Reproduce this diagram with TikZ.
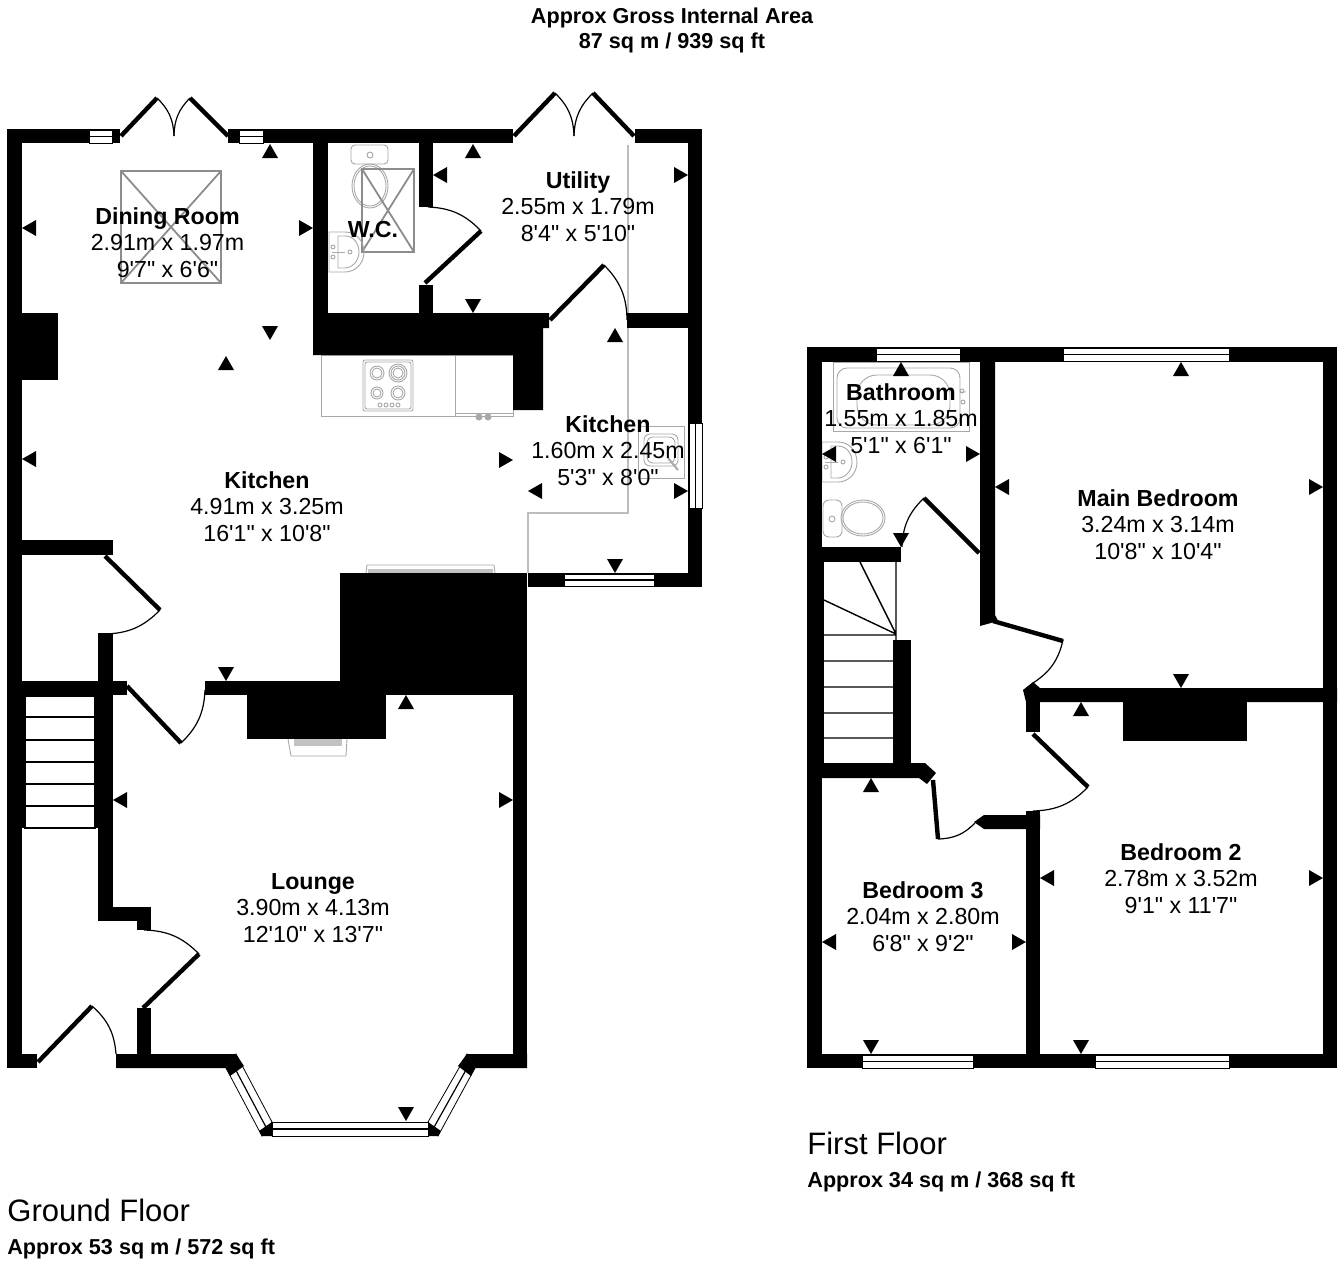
\documentclass[tikz,border=0pt]{standalone}
\usepackage{fontspec}
\setmainfont{Liberation Sans}[Ligatures=TeXOff]
\definecolor{fixgray}{gray}{0.66}
\definecolor{skygray}{gray}{0.55}
\definecolor{linegray}{gray}{0.74}
\tikzset{
  wall/.style={fill=black,draw=none},
  leaf/.style={draw=black,line width=2.2pt,line cap=butt},
  swing/.style={draw=black,line width=0.6pt},
  fix/.style={draw=fixgray,line width=0.45pt},
  sky/.style={draw=skygray,line width=0.9pt},
  winbox/.style={fill=white,draw=black,line width=0.4pt},
  roomtext/.style={anchor=north,inner sep=0pt,align=center,text=black,font=\fontsize{11.6}{13.3}\selectfont},
  headtext/.style={anchor=base,inner sep=0pt,font=\fontsize{10.8}{12.5}\selectfont\bfseries},
  floorname/.style={anchor=base west,inner sep=0pt,font=\fontsize{15.5}{18}\selectfont},
  floorarea/.style={anchor=base west,inner sep=0pt,font=\fontsize{10.8}{12.5}\selectfont\bfseries},
}
\newcommand{\triup}[2]{\fill (#1,#2)--(#1-8,#2+14)--(#1+8,#2+14)--cycle;}
\newcommand{\tridn}[2]{\fill (#1,#2)--(#1-8,#2-14)--(#1+8,#2-14)--cycle;}
\newcommand{\trilf}[2]{\fill (#1,#2)--(#1+14,#2-8)--(#1+14,#2+8)--cycle;}
\newcommand{\trirt}[2]{\fill (#1,#2)--(#1-14,#2-8)--(#1-14,#2+8)--cycle;}
\newcommand{\winh}[4]{\path[winbox] (#1,#3) rectangle (#2,#4); \draw[line width=0.6pt] (#1,{(#3+#4)/2}) -- (#2,{(#3+#4)/2});}
\newcommand{\winv}[4]{\path[winbox] (#1,#3) rectangle (#2,#4); \draw[line width=0.6pt] ({(#1+#2)/2},#3) -- ({(#1+#2)/2},#4);}
\newcommand{\basin}[2]{\begin{scope}[shift={(#1,#2)}]
  \path[fix] (0,0) -- (16,0) .. controls (28,0) and (35,10) .. (35,20) .. controls (35,32) and (26,40) .. (16,40) -- (0,40) -- cycle;
  \path[fix] (9,4) -- (16,4) .. controls (25,4) and (30,12) .. (30,20) .. controls (30,30) and (22,36) .. (16,36) -- (9,36) -- cycle;
  \path[fix] (3,20) -- (16,20);
  \path[fix] (21,20) circle [radius=2];
  \path[fix] (4,15) circle [radius=2];
  \path[fix] (4,25) circle [radius=2];
\end{scope}}
\newcommand{\room}[6]{\node[roomtext] (#1) at (#2,#3-17) {{\bfseries #4}\\#5\\#6};}
\begin{document}
\begin{tikzpicture}[x=0.5pt,y=-0.5pt]
\useasboundingbox (0,0) rectangle (1344,1264);
\fill[white] (0,0) rectangle (1344,1264);

% ---------- ground floor fixtures
\path[sky] (121,171) rectangle (221,283) (121,171) -- (221,283) (221,171) -- (121,283);
\path[fix] (321,355) rectangle (513,416);
\path[fix] (455,355) -- (455,416) (455,413) -- (513,413);
\fill[fixgray] (479,417) circle [radius=3.5] (488,417) circle [radius=3.5];
\path[fix,rounded corners=1pt] (363,360) rectangle (413,411);
\path[fix,rounded corners=1pt] (365,362) rectangle (411,409);
\path[fix] (377,373) circle [radius=7] (377,373) circle [radius=5]
  (398,373) circle [radius=9] (398,373) circle [radius=7] (398,373) circle [radius=5]
  (377,393) circle [radius=6] (377,393) circle [radius=4]
  (398,393) circle [radius=7] (398,393) circle [radius=5]
  (380,405) circle [radius=2] (386,405) circle [radius=2] (392,405) circle [radius=2] (398,405) circle [radius=2];
\draw[linegray,line width=0.7pt] (628,145) -- (628,313) (628,328) -- (628,513) -- (528,513) -- (528,573);
\path[fix] (638,426) rectangle (684,478);
\path[fix,rounded corners=3pt] (644,434) rectangle (678,466);
\path[fix,rounded corners=3pt] (647,437) rectangle (675,463);
\path[fix,line width=1pt] (668,458) -- (678,470);
\path[fix] (366,573) -- (367,565) -- (494,565) -- (495,573);
\fill[fixgray!70] (368,569) rectangle (493,573);
\path[fix] (288,739) -- (291,756) -- (346,756) -- (347,739);
\fill[fixgray!70] (294,739) rectangle (342,746);
% W.C.
\path[fix,rounded corners=2pt] (351,145) rectangle (388,164);
\path[fix] (370,155) circle [radius=3];
\path[fix] (370,186) ellipse [x radius=18,y radius=22];
\path[fix] (370,186) ellipse [x radius=16,y radius=20];
\path[sky] (362,169) rectangle (414,252) (362,169) -- (414,252) (414,169) -- (362,252);
\basin{329}{232}

% ---------- ground floor walls
\path[wall] (7,129) rectangle (120,143);
\path[wall] (228,129) rectangle (513,143);
\path[wall] (635,129) rectangle (702,143);
\path[wall] (7,129) rectangle (22,1068);
\path[wall] (688,129) rectangle (702,587);
\path[wall] (528,573) rectangle (702,587);
\path[wall] (313,129) rectangle (328,355);
\path[wall] (419,129) rectangle (433,207);
\path[wall] (419,285) rectangle (433,313);
\path[wall] (313,313) -- (549,313) -- (549,328) -- (543,328) -- (543,410) -- (513,410) -- (513,355) -- (313,355) -- cycle;
\path[wall] (627,313) rectangle (702,328);
\path[wall] (22,313) rectangle (58,380);
\path[wall] (7,540) rectangle (113,555);
\path[wall] (98,633) rectangle (113,695);
\path[wall] (7,681) rectangle (127,695);
\path[wall] (205,681) rectangle (527,695);
\path[wall] (247,695) rectangle (386,739);
\path[wall] (340,573) rectangle (527,695);
\path[wall] (513,681) rectangle (527,1068);
\path[wall] (7,695) rectangle (25,828);
\path[wall] (95,695) rectangle (113,828);
\path[wall] (98,828) rectangle (113,921);
\path[wall] (98,907) rectangle (151,921);
\path[wall] (137,907) rectangle (151,930);
\path[wall] (137,1008) rectangle (151,1068);
\path[wall] (7,1054) rectangle (37,1068);
\path[wall] (116,1054) -- (236,1054) -- (226,1068) -- (116,1068) -- cycle;
\path[wall] (467,1054) -- (527,1054) -- (527,1068) -- (475,1068) -- cycle;
% stairs
\draw[line width=0.7pt] (25,696) rectangle (95,828)
  (25,717) -- (95,717) (25,740) -- (95,740) (25,762) -- (95,762) (25,784) -- (95,784) (25,806) -- (95,806);
% bay window
\path[winbox] (236,1054) -- (226,1068) -- (262,1136) -- (272,1122) -- cycle;
\draw[line width=0.6pt] (231,1061) -- (267,1129);
\path[winbox] (467,1054) -- (475,1068) -- (438,1136) -- (428,1122) -- cycle;
\draw[line width=0.6pt] (471,1061) -- (433,1129);
\path[winbox] (272,1122) rectangle (428,1136);
\draw[line width=0.6pt] (272,1129) -- (428,1129);
\path[wall] (262,1136) -- (272,1136) -- (272,1122) -- (259,1131) -- cycle;
\path[wall] (428,1122) -- (428,1136) -- (438,1136) -- (441,1131) -- cycle;
\path[wall] (236,1054) -- (226,1068) -- (230,1076) -- (244,1066) -- cycle;
\path[wall] (467,1054) -- (475,1068) -- (471,1076) -- (458,1066) -- cycle;
% windows
\winh{89}{112}{130}{143}
\winh{239}{263}{130}{143}
\winh{564}{654}{574}{586}
\winv{689}{702}{423}{508}
% door leaves
\draw[leaf] (121,136) -- (157,98);
\draw[leaf] (228,136) -- (190,98);
\draw[leaf] (514,136) -- (555,93);
\draw[leaf] (634,136) -- (593,93);
\draw[leaf] (425,283) -- (481,231);
\draw[leaf] (550,320) -- (604,265);
\draw[leaf] (105,556) -- (160,610);
\draw[leaf] (127,686) -- (181,743);
\draw[leaf] (143,1008) -- (199,954);
\draw[leaf] (38,1062) -- (92,1006);
% door swings
\draw[swing] (157,98) to[bend left=22] (174,136);
\draw[swing] (190,98) to[bend right=22] (174,136);
\draw[swing] (555,93) to[bend left=22] (574,136);
\draw[swing] (593,93) to[bend right=22] (574,136);
\draw[swing] (481,231) to[bend right=22] (428,207);
\draw[swing] (604,265) to[bend left=22] (627,320);
\draw[swing] (160,610) to[bend left=22] (105,634);
\draw[swing] (181,743) to[bend right=22] (205,690);
\draw[swing] (199,954) to[bend right=22] (144,930);
\draw[swing] (92,1006) to[bend left=22] (116,1054);
% markers
\triup{270}{144} \tridn{270}{340} \triup{226}{356} \trilf{22}{228} \trirt{313}{228}
\triup{473}{144} \trilf{433}{175} \trirt{688}{175} \tridn{473}{313}
\triup{615}{328} \tridn{615}{573} \trilf{528}{491} \trirt{513}{460} \trirt{688}{491}
\trilf{22}{459} \tridn{226}{681}
\trilf{113}{800} \triup{406}{695} \trirt{513}{800} \tridn{406}{1121}

% ---------- first floor fixtures
\path[fix] (833,362) rectangle (969,431);
\path[fix,rounded corners=5pt] (837,368) rectangle (960,428);
\path[fix,rounded corners=10pt] (857,375) rectangle (950,425);
\path[fix] (960,392) -- (966,392) (962,391) circle [radius=2] (963,402) circle [radius=2];
\basin{822}{442}
\path[fix,rounded corners=3pt] (823,500) rectangle (842,537);
\path[fix] (832,519) circle [radius=3];
\path[fix] (863,518) ellipse [x radius=22,y radius=18];
\path[fix] (863,518) ellipse [x radius=20,y radius=16];

% ---------- first floor walls
\path[wall] (807,347) rectangle (1337,362);
\path[wall] (807,347) rectangle (822,1068);
\path[wall] (1323,347) rectangle (1337,1068);
\path[wall] (807,1054) rectangle (1337,1068);
\path[wall] (980,347) -- (995,347) -- (995,615) -- (998,621) -- (980,626) -- cycle;
\path[wall] (807,547) rectangle (901,562);
\path[wall] (807,562) rectangle (824,763);
\path[wall] (893,640) rectangle (911,763);
\path[wall] (807,763) -- (925,763) -- (936,773) -- (927,784) -- (919,778) -- (807,778) -- cycle;
\path[wall] (1026,811) rectangle (1040,1068);
\path[wall] (984,815) -- (1040,815) -- (1040,829) -- (984,829) -- (974,822) -- cycle;
\path[wall] (1026,690) rectangle (1040,732);
\path[wall] (1023,690) -- (1033,682) -- (1040,688) -- (1337,688) -- (1337,702) -- (1026,702) -- cycle;
\path[wall] (1123,702) rectangle (1247,741);
% stairs
\draw[line width=0.7pt] (896,562) -- (896,640) (824,635) -- (896,635)
  (860,562) -- (896,634) (824,600) -- (896,634)
  (824,661) -- (893,661) (824,687) -- (893,687) (824,713) -- (893,713) (824,738) -- (893,738);
% windows
\winh{876}{960}{348}{361}
\winh{1063}{1229}{348}{361}
\winh{862}{973}{1055}{1068}
\winh{1095}{1229}{1055}{1068}
% doors
\draw[leaf] (979,553) -- (924,498);
\draw[leaf] (993,621) -- (1063,641);
\draw[leaf] (1033,734) -- (1088,787);
\draw[leaf] (933,780) -- (938,839);
\draw[swing] (924,498) to[bend right=22] (902,547);
\draw[swing] (1063,640) to[bend left=22] (1033,683);
\draw[swing] (1088,787) to[bend left=22] (1033,811);
\draw[swing] (938,839) to[bend right=22] (975,823);
% markers
\triup{901}{362} \trilf{822}{454} \trirt{980}{454} \tridn{901}{547}
\triup{1181}{362} \trilf{995}{487} \trirt{1323}{487} \tridn{1181}{688}
\triup{1081}{702} \trilf{1040}{878} \trirt{1323}{878} \tridn{1081}{1054}
\triup{871}{778} \trilf{822}{942} \trirt{1026}{942} \tridn{871}{1054}

% ---------- text
\node[headtext] (areaA) at (672,23) {Approx Gross Internal Area};
\node[headtext] (areaB) at (672,48) {87 sq m / 939 sq ft};
\room{dining}{167.5}{224}{Dining Room}{2.91m x 1.97m}{9'7" x 6'6"}
\room{utility}{578}{188}{Utility}{2.55m x 1.79m}{8'4" x 5'10"}
\node[anchor=base,inner sep=0pt,font=\fontsize{11.6}{13.3}\selectfont\bfseries] (wc) at (373,237) {W.C.};
\room{kitchensmall}{608}{432}{Kitchen}{1.60m x 2.45m}{5'3" x 8'0"}
\room{kitchen}{267}{488}{Kitchen}{4.91m x 3.25m}{16'1" x 10'8"}
\room{lounge}{313}{890}{Lounge}{3.90m x 4.13m}{12'10" x 13'7"}
\room{bathroom}{901}{400}{Bathroom}{1.55m x 1.85m}{5'1" x 6'1"}
\room{mainbed}{1158}{506}{Main Bedroom}{3.24m x 3.14m}{10'8" x 10'4"}
\room{bedtwo}{1181}{860}{Bedroom 2}{2.78m x 3.52m}{9'1" x 11'7"}
\room{bedthree}{923}{898}{Bedroom 3}{2.04m x 2.80m}{6'8" x 9'2"}
\node[floorname] (gf) at (7,1221) {Ground Floor};
\node[floorarea] (gfa) at (7,1254) {Approx 53 sq m / 572 sq ft};
\node[floorname] (ff) at (807,1154) {First Floor};
\node[floorarea] (ffa) at (807,1187) {Approx 34 sq m / 368 sq ft};
\end{tikzpicture}
\end{document}
